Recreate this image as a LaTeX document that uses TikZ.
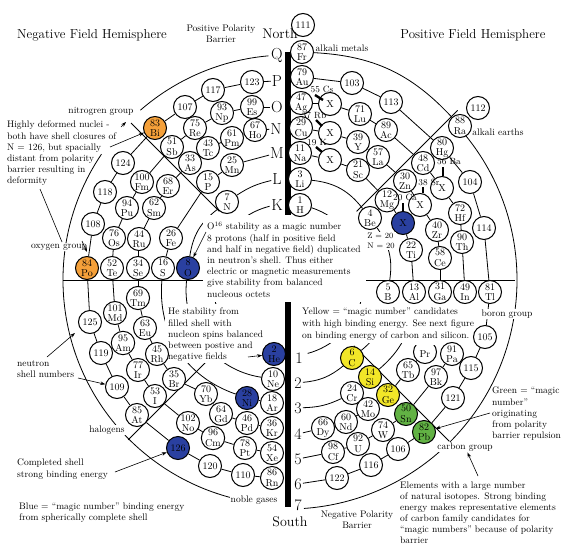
\documentclass[tikz,border=0pt]{standalone}
\usepackage{fontspec}
\usetikzlibrary{arrows.meta}
\definecolor{morange}{RGB}{244,160,58}
\definecolor{mblue}{RGB}{42,64,160}
\definecolor{myellow}{RGB}{242,230,40}
\definecolor{mgreen}{RGB}{98,178,68}
\pgfdeclarelayer{bg}
\pgfdeclarelayer{mid}
\pgfsetlayers{bg,mid,main}
\tikzset{
  el/.style={circle,draw,line width=1pt,fill=white,minimum size=23pt,inner sep=0pt,align=center,font=\fontsize{10}{10.5}\selectfont},
  conn/.style={line width=0.8pt},
  ringlbl/.style={font=\fontsize{16}{16}\selectfont,inner sep=1pt},
  lbl/.style={font=\fontsize{9.5}{11}\selectfont,inner sep=1pt},
  wlbl/.style={lbl,fill=white},
  xlbl/.style={font=\fontsize{9}{9}\selectfont,inner sep=0pt},
  para/.style={font=\fontsize{9.5}{11.2}\selectfont,align=left,inner sep=0pt,anchor=north west},
  arr/.style={line width=0.6pt,-{Stealth[length=5pt,width=3.5pt]}},
  pinmark/.style={line width=2.4pt},
  hemi/.style={font=\fontsize{13}{13}\selectfont},
}
\begin{document}
\begin{tikzpicture}[x=1pt,y=1pt]
\useasboundingbox (0,0) rectangle (565,-554);
\coordinate (C) at (288,-280);

% ---------- ring labels
\node[ringlbl] (lQ) at (277,-55) {Q};
\node[ringlbl] (lP) at (277,-81) {P};
\node[ringlbl] (lO) at (277,-107) {O};
\node[ringlbl] (lN) at (276,-129) {N};
\node[ringlbl] (lM) at (277,-153) {M};
\node[ringlbl] (lL) at (277,-179) {L};
\node[ringlbl] (lK) at (277,-205) {K};
\node[ringlbl] (l1) at (299,-358) {1};
\node[ringlbl] (l2) at (298,-383) {2};
\node[ringlbl] (l3) at (298,-408) {3};
\node[ringlbl] (l4) at (298,-434) {4};
\node[ringlbl] (l5) at (298,-459) {5};
\node[ringlbl] (l6) at (298,-484) {6};
\node[ringlbl] (l7) at (298,-505) {7};

% ---------- upper left
\node[el] (e123) at (252,-82) {123};
\node[el] (e117) at (213,-90) {117};
\node[el] (e107) at (185,-107) {107};
\node[el,fill=morange] (eBi) at (155,-128) {83\\Bi};
\node[el] (e124) at (123,-163) {124};
\node[el] (e118) at (105,-192) {118};
\node[el] (e108) at (93,-224) {108};
\node[el,fill=morange] (ePo) at (87,-268) {84\\Po};
\node[el] (eEs) at (252,-107) {99\\Es};
\node[el] (eNp) at (222,-113) {93\\Np};
\node[el] (eRe) at (195,-128) {75\\Re};
\node[el] (eSb) at (172,-147) {51\\Sb};
\node[el] (eFm) at (142,-182) {100\\Fm};
\node[el] (ePu) at (127,-208) {94\\Pu};
\node[el] (eOs) at (114,-238) {76\\Os};
\node[el] (eTe) at (112,-268) {52\\Te};
\node[el] (eHo) at (255,-130) {67\\Ho};
\node[el] (ePm) at (232,-138) {61\\Pm};
\node[el] (eTc) at (208,-148) {43\\Tc};
\node[el] (eAs) at (190,-163) {33\\As};
\node[el] (eEr) at (168,-186) {68\\Er};
\node[el] (eSm) at (154,-208) {62\\Sm};
\node[el] (eRu) at (139,-239) {44\\Ru};
\node[el] (eSe) at (138,-268) {34\\Se};
\node[el] (eMn) at (232,-165) {25\\Mn};
\node[el] (eP) at (208,-182) {15\\P};
\node[el] (eFe) at (171,-238) {26\\Fe};
\node[el] (eS) at (163,-268) {16\\S};
\node[el] (eN) at (227,-202) {7\\N};
\node[el,fill=mblue] (eO) at (188,-268) {8\\O};

% ---------- upper right
\node[el] (e111) at (303,-25) {111};
\node[el] (eFr) at (302,-52) {87\\Fr};
\node[el] (eAu) at (302,-77) {79\\Au};
\node[el] (eAg) at (301,-103) {47\\Ag};
\node[el] (eCu) at (301,-128) {29\\Cu};
\node[el] (eNa) at (300,-153) {11\\Na};
\node[el] (eLi) at (300,-179) {3\\Li};
\node[el] (eH) at (300,-205) {1\\H};
\node[el] (e103) at (352,-83) {103};
\node[el] (eXCs) at (330,-104) {X};
\node[el] (eLu) at (360,-114) {71\\Lu};
\node[el] (eXRb) at (330,-133) {X};
\node[el] (eY) at (358,-142) {39\\Y};
\node[el] (eXK) at (330,-160) {X};
\node[el] (eSc) at (358,-170) {21\\Sc};
\node[el] (e113) at (391,-102) {113};
\node[el] (eAc) at (386,-130) {89\\Ac};
\node[el] (eLa) at (378,-157) {57\\La};
\node[el] (e112) at (478,-108) {112};
\node[el] (eRa) at (460,-126) {88\\Ra};
\node[el] (eHg) at (442,-148) {80\\Hg};
\node[el] (eCd) at (423,-163) {48\\Cd};
\node[el] (eZn) at (405,-181) {30\\Zn};
\node[el] (e104) at (470,-182) {104};
\node[el] (eXBa) at (442,-188) {X};
\node[el] (eMg) at (387,-200) {12\\Mg};
\node[el] (eXSr) at (420,-205) {X};
\node[el] (eHf) at (460,-213) {72\\Hf};
\node[el] (eBe) at (370,-218) {4\\Be};
\node[el,fill=mblue] (eXCa) at (403,-223) {X};
\node[el] (eZr) at (437,-230) {40\\Zr};
\node[el] (eTi) at (411,-250) {22\\Ti};
\node[el] (eTh) at (462,-242) {90\\Th};
\node[el] (eCe) at (440,-258) {58\\Ce};
\node[el] (e114) at (484,-228) {114};

% ---------- lower right
\node[el] (eB) at (388,-292) {5\\B};
\node[el] (eAl) at (414,-292) {13\\Al};
\node[el] (eGa) at (440,-292) {31\\Ga};
\node[el] (eIn) at (465,-292) {49\\In};
\node[el] (eTl) at (490,-292) {81\\Tl};
\node[el,fill=myellow] (eC) at (352,-358) {6\\C};
\node[el,fill=myellow] (eSi) at (370,-377) {14\\Si};
\node[el,fill=myellow] (eGe) at (388,-395) {32\\Ge};
\node[el,fill=mgreen] (eSn) at (406,-414) {50\\Sn};
\node[el,fill=mgreen] (ePb) at (424,-432) {82\\Pb};
\node[el] (eCr) at (352,-393) {24\\Cr};
\node[el] (eMo) at (368,-409) {42\\Mo};
\node[el] (eW) at (383,-430) {74\\W};
\node[el] (e106) at (398,-449) {106};
\node[el] (eDy) at (323,-428) {66\\Dy};
\node[el] (eNd) at (346,-422) {60\\Nd};
\node[el] (eU) at (358,-444) {92\\U};
\node[el] (eCf) at (333,-452) {98\\Cf};
\node[el] (e116) at (371,-465) {116};
\node[el] (e122) at (337,-478) {122};
\node[el] (eTb) at (408,-370) {65\\Tb};
\node[el] (ePr) at (425,-352) {\mbox{}\\Pr};
\node[el] (eBk) at (436,-377) {97\\Bk};
\node[el] (ePa) at (452,-354) {91\\Pa};
\node[el] (e121) at (453,-398) {121};
\node[el] (e115) at (471,-368) {115};
\node[el] (e105) at (485,-337) {105};

% ---------- lower left
\node[el] (e125) at (90,-322) {125};
\node[el] (e119) at (101,-353) {119};
\node[el] (e109) at (117,-387) {109};
\node[el] (eAt) at (137,-415) {85\\At};
\node[el,fill=mblue] (e126) at (178,-448) {126};
\node[el] (e120) at (210,-466) {120};
\node[el] (e110) at (243,-475) {110};
\node[el] (eRn) at (272,-478) {86\\Rn};
\node[el] (eMd) at (115,-313) {101\\Md};
\node[el] (eAm) at (123,-343) {95\\Am};
\node[el] (eIr) at (138,-370) {77\\Ir};
\node[el] (eI) at (155,-396) {53\\I};
\node[el] (eNo) at (188,-423) {102\\No};
\node[el] (eCm) at (213,-438) {96\\Cm};
\node[el] (ePt) at (245,-448) {78\\Pt};
\node[el] (eXe) at (272,-453) {54\\Xe};
\node[el] (eTm) at (138,-298) {69\\Tm};
\node[el] (eEu) at (145,-328) {63\\Eu};
\node[el] (eRh) at (157,-354) {45\\Rh};
\node[el] (eBr) at (174,-379) {35\\Br};
\node[el] (eYb) at (206,-394) {70\\Yb};
\node[el] (eGd) at (221,-414) {64\\Gd};
\node[el] (ePd) at (247,-423) {46\\Pd};
\node[el] (eKr) at (272,-428) {36\\Kr};
\node[el,fill=mblue] (eNi) at (247,-398) {28\\Ni};
\node[el] (eAr) at (272,-403) {18\\Ar};
\node[el] (eNe) at (273,-379) {10\\Ne};
\node[el,fill=mblue] (eHe) at (274,-354) {2\\He};

% ---------- connectors
\begin{pgfonlayer}{bg}
\draw[line width=6pt] (288,-52) -- (288,-507);
\draw[conn] (63,-280) -- (515,-280);
\draw[conn] ([shift={(135:97)}]C) -- ([shift={(135:222)}]C);
\draw[conn] ([shift={(45:97)}]C) -- ([shift={(45:240)}]C);
\draw[conn] ([shift={(-45:93)}]C) -- ([shift={(-45:228)}]C);
\draw[conn] ([shift={(225:100)}]C) -- ([shift={(225:226)}]C);
% outer ring Q
\draw[conn] ([shift={(95:225)}]C) arc[start angle=95,end angle=131,radius=225];
\draw[conn] ([shift={(146:225)}]C) arc[start angle=146,end angle=266,radius=225];
\draw[conn] (eFr) to[bend left=22] (eRa);
\draw[conn] ([shift={(39:229)}]C) arc[start angle=39,end angle=-86,radius=229];
% ring K
\draw[conn] ([shift={(104:76)}]C) arc[start angle=104,end angle=250,radius=76];
\draw[conn] ([shift={(72:76)}]C) arc[start angle=72,end angle=-75,radius=76];
% chains
\foreach \a/\b in {lP/e123,e123/e117,e117/e107,e107/eBi,eBi/e124,e124/e118,e118/e108,e108/ePo,ePo/e125,e125/e119,e119/e109,e109/eAt,eAt/e126,e126/e120,e120/e110,e110/eRn,
  lO/eEs,eEs/eNp,eNp/eRe,eRe/eSb,eSb/eFm,eFm/ePu,ePu/eOs,eOs/eTe,eTe/eMd,eMd/eAm,eAm/eIr,eIr/eI,eI/eNo,eNo/eCm,eCm/ePt,ePt/eXe,
  lN/eHo,eHo/ePm,ePm/eTc,eTc/eAs,eAs/eEr,eEr/eSm,eSm/eRu,eRu/eSe,eSe/eTm,eTm/eEu,eEu/eRh,eRh/eBr,eBr/eYb,eYb/eGd,eGd/ePd,ePd/eKr,
  lM/eMn,eMn/eP,eP/eFe,eFe/eS,eNi/eAr,
  eAu/e103,e103/e113,e113/eHg,eHg/e104,e104/e114,e114/eTl,eTl/e105,e105/e115,e115/e121,e121/ePb,ePb/e106,e106/e116,e116/e122,e122/l6,
  eAg/eXCs,eXCs/eLu,eLu/eAc,eAc/eCd,eCd/eXBa,eXBa/eHf,eHf/eTh,eTh/eIn,eIn/ePa,ePa/eBk,eBk/eSn,eSn/eW,eW/eU,eU/eCf,eCf/l5,
  eCu/eXRb,eXRb/eY,eY/eLa,eLa/eZn,eZn/eXSr,eXSr/eZr,eZr/eCe,eCe/eGa,eGa/ePr,ePr/eTb,eTb/eGe,eGe/eMo,eMo/eNd,eNd/eDy,eDy/l4,
  eNa/eXK,eXK/eSc,eSc/eMg,eMg/eXCa,eXCa/eTi,eTi/eAl,eSi/eCr}
  \draw[conn] (\a) -- (\b);
\draw[conn] (eS) to[bend right=38] (eNi);
\draw[conn] (lL) to[bend right=10] (eN);
\draw[conn] (eN) to[bend right=22] (eO);
\draw[conn] (eO) to[bend right=44] (eNe);
\draw[conn] (eLi) to[bend left=23] (eBe);
\draw[conn] (eBe) to[bend left=22] (eB);
\draw[conn] (eB) to[bend left=22] (eC);
\draw[conn] (eC) to[bend left=17] (l2);
\draw[conn] (eAl) to[bend left=22] (eSi);
\draw[conn] (eCr) to[bend left=12] (l3);
\end{pgfonlayer}

% ---------- white boxes behind paragraphs
\begin{pgfonlayer}{mid}
\fill[white] (203,-215) rectangle (366,-302);
\fill[white] (165,-304) rectangle (264,-363);
\fill[white] (299,-304) rectangle (477,-343);
\end{pgfonlayer}
\fill[white] (413,-337) rectangle (437,-345);

% ---------- pins for displaced elements
\node[xlbl] (tCs) at (322,-89) {55\,\,Cs};
\node[xlbl] (tRb) at (314,-115) {37 Rb};
\node[xlbl] (tK) at (317,-143) {19 K};
\node[xlbl] (tBa) at (449,-162) {56 Ba};
\node[xlbl] (tSr) at (429,-182) {38 Sr};
\node[xlbl] (tCa) at (405,-197) {20 Ca};
\draw[pinmark] (315,-95) -- (323,-100);
\draw[pinmark] (316,-120) -- (322,-126);
\draw[pinmark] (316,-147) -- (322,-152);
\draw[pinmark] (443,-167) -- (443,-176);
\draw[pinmark] (423,-187) -- (423,-193);
\draw[pinmark] (403,-203) -- (403,-211);

% ---------- titles and labels
\node[hemi] (tNeg) at (92,-35) {Negative Field Hemisphere};
\node[hemi] (tPos) at (473,-35) {Positive Field Hemisphere};
\node[lbl,align=center] (tPPB) at (221,-34) {Positive Polarity\\Barrier};
\node[font=\fontsize{14}{14}\selectfont,inner sep=0pt] (tNorth) at (280,-34) {North};
\node[font=\fontsize{14}{14}\selectfont,inner sep=0pt] (tSouth) at (290,-522) {South};
\node[lbl,align=center] (tNPB) at (357,-520) {Negative Polarity\\Barrier};
\node[lbl] (tAM) at (342,-48) {alkali metals};
\node[lbl] (tAE) at (498,-132) {alkali earths};
\node[wlbl] (tNG) at (101,-111) {nitrogren group};
\node[wlbl] (tOG) at (59,-247) {oxygen group};
\node[wlbl] (tHal) at (107,-430) {halogens};
\node[wlbl] (tNob) at (254,-500) {noble gases};
\node[wlbl] (tCG) at (465,-447) {carbon group};
\node[wlbl] (tBG) at (507,-314) {boron group};
\node[font=\fontsize{8}{9.5}\selectfont,align=left,fill=white,inner sep=1pt] (tZN) at (381,-241) {Z = 20\\N = 20};

\node[para] (pHigh) at (7,-121) {Highly deformed nuclei -\\both have shell closures of\\N = 126, but spacially\\distant from polarity\\barrier resulting in\\deformity};
\node[para] (pO16) at (207,-223) {O\smash{\textsuperscript{16}} stability as a magic number\\8 protons (half in positive field\\and half in negative field) duplicated\\in neutron’s shell.  Thus either\\electric or magnetic measurements\\give stability from balanced\\nucleous octets};
\node[para] (pHe) at (168,-308) {He stability from\\filled shell with\\nucleon spins balanced\\between postive and\\negative fields};
\node[para,font=\fontsize{9.5}{11.8}\selectfont] (pYel) at (302,-308) {Yellow = “magic number” candidates\\with high binding energy.  See next figure\\on binding energy of carbon and silicon.};
\node[para] (pGreen) at (492,-387) {Green = “magic\\ number”\\originating\\from polarity\\barrier repulsion};
\node[para,font=\fontsize{9.5}{11}\selectfont] (pElem) at (400,-482) {Elements with a large number\\of natural isotopes.  Strong binding\\energy makes representative  elements\\of carbon family candidates for\\“magic numbers” because of polarity\\barrier};
\node[para] (pComp) at (17,-459) {Completed shell\\strong binding energy};
\node[para] (pBlue) at (19,-503) {Blue = “magic number” binding energy\\from spherically complete shell};
\node[para] (pNeut) at (17,-360) {neutron\\shell numbers};

% ---------- arrows
\draw[arr] (110,-147) -- (eBi);
\draw[arr] (121,-127) -- (126,-122);
\draw[conn,line width=0.6pt] (40,-189) -- (62,-242);
\draw[arr] (82,-241) -- (87,-252);
\draw[arr] (47,-357) -- (75,-333);
\draw[arr] (78,-378) -- (e109);
\draw[arr] (115,-472) -- (e126);
\draw[arr] (248,-357) -- (eHe);
\draw[arr] (206,-232) -- (eO);
\draw[arr] (490,-413) -- (ePb);
\draw[arr] (478,-476) -- (tCG);
\end{tikzpicture}
\end{document}
